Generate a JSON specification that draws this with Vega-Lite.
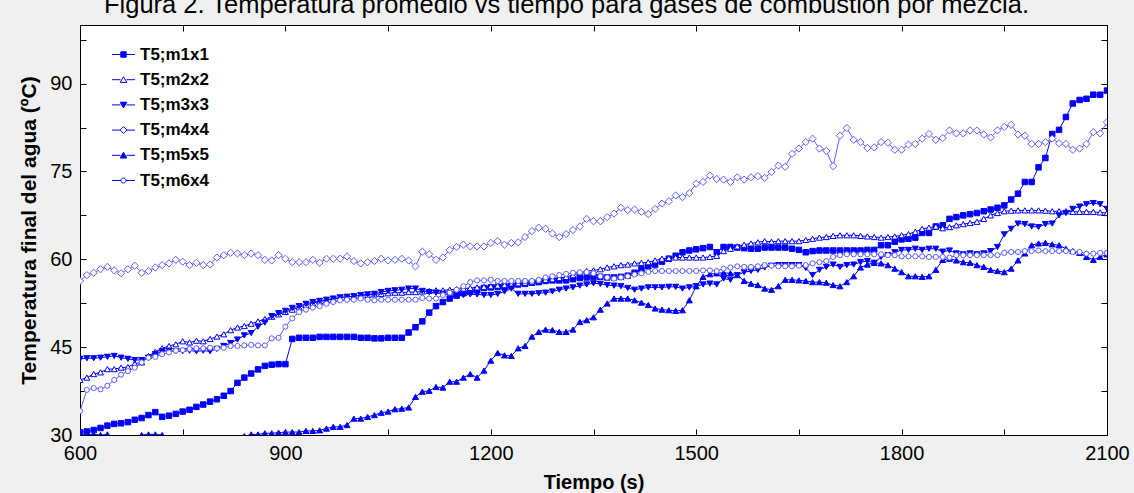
{
  "$schema": "https://vega.github.io/schema/vega-lite/v6.json",
  "width": 1027,
  "height": 410,
  "autosize": {"type": "none"},
  "padding": {"left": 80, "top": 25, "right": 27, "bottom": 58},
  "background": "#f0f0f0",
  "config": {
    "font": "Liberation Sans",
    "view": {"fill": "white", "stroke": "black", "strokeWidth": 1}
  },
  "title": {
    "text": "Figura 2. Temperatura promedio vs tiempo para gases de combustión por mezcla.",
    "fontSize": 25.5,
    "font": "Liberation Sans",
    "fontWeight": "normal",
    "color": "black",
    "anchor": "middle",
    "frame": "group",
    "dx": -27,
    "dy": 28,
    "offset": 14,
    "baseline": "alphabetic"
  },
  "data": {
    "values": [
      {"t":600,"m1x1":30.45,"m2x2":39.4,"m3x3":43.0,"m4x4":56.3,"m5x5":30.1,"m6x4":34.1},
      {"t":610,"m1x1":30.6,"m2x2":39.8,"m3x3":43.1,"m4x4":57.3,"m5x5":30.0,"m6x4":37.7},
      {"t":620,"m1x1":30.85,"m2x2":40.4,"m3x3":43.1,"m4x4":57.7,"m5x5":30.1,"m6x4":38.0},
      {"t":630,"m1x1":31.2,"m2x2":40.7,"m3x3":43.2,"m4x4":58.3,"m5x5":30.0,"m6x4":37.8},
      {"t":640,"m1x1":31.6,"m2x2":41.25,"m3x3":43.35,"m4x4":58.7,"m5x5":30.1,"m6x4":38.4},
      {"t":650,"m1x1":31.9,"m2x2":41.25,"m3x3":43.5,"m4x4":58.1,"m5x5":29.0,"m6x4":39.4},
      {"t":660,"m1x1":32.0,"m2x2":41.5,"m3x3":43.2,"m4x4":57.6,"m5x5":28.5,"m6x4":40.3},
      {"t":670,"m1x1":32.2,"m2x2":41.6,"m3x3":43.0,"m4x4":58.3,"m5x5":28.5,"m6x4":40.9},
      {"t":680,"m1x1":32.6,"m2x2":42.2,"m3x3":42.8,"m4x4":58.9,"m5x5":29.0,"m6x4":41.5},
      {"t":690,"m1x1":32.9,"m2x2":42.4,"m3x3":42.8,"m4x4":57.7,"m5x5":30.0,"m6x4":42.4},
      {"t":700,"m1x1":33.4,"m2x2":43.5,"m3x3":43.2,"m4x4":58.0,"m5x5":30.1,"m6x4":43.2},
      {"t":710,"m1x1":33.9,"m2x2":44.2,"m3x3":43.8,"m4x4":58.6,"m5x5":30.1,"m6x4":43.35},
      {"t":720,"m1x1":33.1,"m2x2":44.8,"m3x3":44.3,"m4x4":59.0,"m5x5":30.0,"m6x4":43.8},
      {"t":730,"m1x1":33.3,"m2x2":45.2,"m3x3":44.4,"m4x4":59.3,"m5x5":29.0,"m6x4":44.1},
      {"t":740,"m1x1":33.6,"m2x2":45.5,"m3x3":44.3,"m4x4":59.9,"m5x5":28.0,"m6x4":44.4},
      {"t":750,"m1x1":34.0,"m2x2":46.0,"m3x3":44.3,"m4x4":59.6,"m5x5":27.5,"m6x4":44.5},
      {"t":760,"m1x1":34.3,"m2x2":45.8,"m3x3":44.4,"m4x4":59.0,"m5x5":27.5,"m6x4":44.7},
      {"t":770,"m1x1":34.8,"m2x2":46.1,"m3x3":44.3,"m4x4":59.4,"m5x5":27.5,"m6x4":44.8},
      {"t":780,"m1x1":35.2,"m2x2":46.0,"m3x3":44.4,"m4x4":59.0,"m5x5":27.5,"m6x4":44.8},
      {"t":790,"m1x1":35.7,"m2x2":46.4,"m3x3":44.3,"m4x4":59.1,"m5x5":27.5,"m6x4":44.9},
      {"t":800,"m1x1":36.1,"m2x2":46.8,"m3x3":44.7,"m4x4":60.3,"m5x5":27.8,"m6x4":44.8},
      {"t":810,"m1x1":36.7,"m2x2":47.2,"m3x3":45.2,"m4x4":60.7,"m5x5":28.2,"m6x4":44.9},
      {"t":820,"m1x1":37.5,"m2x2":47.9,"m3x3":45.7,"m4x4":61.1,"m5x5":28.6,"m6x4":45.2},
      {"t":830,"m1x1":38.9,"m2x2":48.35,"m3x3":46.3,"m4x4":61.0,"m5x5":29.2,"m6x4":45.2},
      {"t":840,"m1x1":39.8,"m2x2":48.6,"m3x3":47.0,"m4x4":60.7,"m5x5":29.8,"m6x4":45.3},
      {"t":850,"m1x1":40.5,"m2x2":49.0,"m3x3":47.4,"m4x4":61.0,"m5x5":30.1,"m6x4":45.4},
      {"t":860,"m1x1":41.2,"m2x2":49.4,"m3x3":48.5,"m4x4":60.7,"m5x5":30.1,"m6x4":45.3},
      {"t":870,"m1x1":41.8,"m2x2":49.8,"m3x3":49.2,"m4x4":59.9,"m5x5":30.3,"m6x4":45.3},
      {"t":880,"m1x1":42.0,"m2x2":50.2,"m3x3":50.3,"m4x4":59.8,"m5x5":30.3,"m6x4":46.5},
      {"t":890,"m1x1":42.1,"m2x2":50.6,"m3x3":50.8,"m4x4":60.7,"m5x5":30.4,"m6x4":46.6},
      {"t":900,"m1x1":42.1,"m2x2":51.0,"m3x3":51.2,"m4x4":60.1,"m5x5":30.5,"m6x4":48.5},
      {"t":910,"m1x1":46.4,"m2x2":51.4,"m3x3":51.7,"m4x4":59.5,"m5x5":30.5,"m6x4":49.9},
      {"t":920,"m1x1":46.6,"m2x2":51.8,"m3x3":52.0,"m4x4":59.5,"m5x5":30.5,"m6x4":51.0},
      {"t":930,"m1x1":46.6,"m2x2":52.2,"m3x3":52.4,"m4x4":59.5,"m5x5":30.7,"m6x4":51.4},
      {"t":940,"m1x1":46.6,"m2x2":52.5,"m3x3":52.7,"m4x4":59.9,"m5x5":30.7,"m6x4":51.75},
      {"t":950,"m1x1":46.75,"m2x2":52.8,"m3x3":52.9,"m4x4":59.4,"m5x5":30.8,"m6x4":52.0},
      {"t":960,"m1x1":46.75,"m2x2":53.0,"m3x3":53.1,"m4x4":60.1,"m5x5":31.1,"m6x4":52.4},
      {"t":970,"m1x1":46.75,"m2x2":53.2,"m3x3":53.3,"m4x4":60.1,"m5x5":31.4,"m6x4":52.7},
      {"t":980,"m1x1":46.75,"m2x2":53.4,"m3x3":53.5,"m4x4":60.1,"m5x5":31.4,"m6x4":53.0},
      {"t":990,"m1x1":46.75,"m2x2":53.6,"m3x3":53.6,"m4x4":60.5,"m5x5":31.7,"m6x4":53.1},
      {"t":1000,"m1x1":46.75,"m2x2":53.7,"m3x3":53.7,"m4x4":59.7,"m5x5":32.8,"m6x4":53.1},
      {"t":1010,"m1x1":46.6,"m2x2":53.8,"m3x3":53.9,"m4x4":59.3,"m5x5":32.8,"m6x4":53.3},
      {"t":1020,"m1x1":46.6,"m2x2":53.9,"m3x3":54.0,"m4x4":59.5,"m5x5":33.1,"m6x4":53.1},
      {"t":1030,"m1x1":46.5,"m2x2":54.0,"m3x3":54.1,"m4x4":59.7,"m5x5":33.4,"m6x4":53.0},
      {"t":1040,"m1x1":46.5,"m2x2":54.1,"m3x3":54.4,"m4x4":60.1,"m5x5":33.8,"m6x4":53.1},
      {"t":1050,"m1x1":46.6,"m2x2":54.2,"m3x3":54.6,"m4x4":59.8,"m5x5":34.0,"m6x4":53.1},
      {"t":1060,"m1x1":46.6,"m2x2":54.3,"m3x3":54.7,"m4x4":59.9,"m5x5":34.4,"m6x4":53.1},
      {"t":1070,"m1x1":46.6,"m2x2":54.3,"m3x3":54.8,"m4x4":60.1,"m5x5":34.5,"m6x4":53.1},
      {"t":1080,"m1x1":47.5,"m2x2":54.4,"m3x3":55.0,"m4x4":59.8,"m5x5":34.7,"m6x4":53.1},
      {"t":1090,"m1x1":48.4,"m2x2":54.4,"m3x3":55.0,"m4x4":58.8,"m5x5":36.5,"m6x4":53.1},
      {"t":1100,"m1x1":49.4,"m2x2":54.5,"m3x3":54.6,"m4x4":61.3,"m5x5":37.4,"m6x4":53.4},
      {"t":1110,"m1x1":50.9,"m2x2":54.6,"m3x3":54.4,"m4x4":60.85,"m5x5":37.55,"m6x4":53.3},
      {"t":1120,"m1x1":52.0,"m2x2":54.7,"m3x3":54.3,"m4x4":59.9,"m5x5":38.2,"m6x4":53.3},
      {"t":1130,"m1x1":52.7,"m2x2":54.7,"m3x3":54.1,"m4x4":60.3,"m5x5":38.1,"m6x4":53.9},
      {"t":1140,"m1x1":53.3,"m2x2":54.8,"m3x3":53.9,"m4x4":61.6,"m5x5":39.1,"m6x4":54.3},
      {"t":1150,"m1x1":53.8,"m2x2":54.9,"m3x3":53.9,"m4x4":62.1,"m5x5":39.1,"m6x4":54.8},
      {"t":1160,"m1x1":54.2,"m2x2":55.0,"m3x3":53.9,"m4x4":62.5,"m5x5":39.8,"m6x4":55.4},
      {"t":1170,"m1x1":54.5,"m2x2":55.1,"m3x3":54.0,"m4x4":62.2,"m5x5":40.4,"m6x4":56.1},
      {"t":1180,"m1x1":54.8,"m2x2":55.2,"m3x3":54.0,"m4x4":62.2,"m5x5":39.8,"m6x4":56.4},
      {"t":1190,"m1x1":55.1,"m2x2":55.3,"m3x3":53.9,"m4x4":62.2,"m5x5":41.0,"m6x4":56.4},
      {"t":1200,"m1x1":55.2,"m2x2":55.4,"m3x3":53.9,"m4x4":62.8,"m5x5":42.7,"m6x4":56.5},
      {"t":1210,"m1x1":55.3,"m2x2":55.5,"m3x3":54.1,"m4x4":63.1,"m5x5":44.0,"m6x4":56.3},
      {"t":1220,"m1x1":55.4,"m2x2":55.6,"m3x3":54.5,"m4x4":62.5,"m5x5":43.6,"m6x4":56.3},
      {"t":1230,"m1x1":55.5,"m2x2":55.7,"m3x3":55.0,"m4x4":62.8,"m5x5":43.5,"m6x4":56.3},
      {"t":1240,"m1x1":55.7,"m2x2":55.9,"m3x3":54.1,"m4x4":62.9,"m5x5":44.8,"m6x4":56.3},
      {"t":1250,"m1x1":55.8,"m2x2":56.0,"m3x3":54.1,"m4x4":63.8,"m5x5":45.2,"m6x4":56.3},
      {"t":1260,"m1x1":56.0,"m2x2":56.1,"m3x3":54.1,"m4x4":64.8,"m5x5":46.8,"m6x4":56.3},
      {"t":1270,"m1x1":56.1,"m2x2":56.3,"m3x3":54.2,"m4x4":65.4,"m5x5":47.6,"m6x4":56.5},
      {"t":1280,"m1x1":56.3,"m2x2":56.5,"m3x3":54.3,"m4x4":65.2,"m5x5":48.0,"m6x4":56.9},
      {"t":1290,"m1x1":56.4,"m2x2":56.6,"m3x3":54.5,"m4x4":64.4,"m5x5":47.9,"m6x4":57.1},
      {"t":1300,"m1x1":56.4,"m2x2":56.8,"m3x3":54.8,"m4x4":63.8,"m5x5":47.6,"m6x4":57.3},
      {"t":1310,"m1x1":56.4,"m2x2":57.0,"m3x3":55.0,"m4x4":64.3,"m5x5":47.6,"m6x4":57.5},
      {"t":1320,"m1x1":56.6,"m2x2":57.3,"m3x3":55.2,"m4x4":65.0,"m5x5":48.0,"m6x4":57.7},
      {"t":1330,"m1x1":56.8,"m2x2":57.7,"m3x3":55.5,"m4x4":65.6,"m5x5":49.3,"m6x4":57.8},
      {"t":1340,"m1x1":56.9,"m2x2":58.0,"m3x3":55.7,"m4x4":66.9,"m5x5":49.6,"m6x4":57.8},
      {"t":1350,"m1x1":57.0,"m2x2":58.1,"m3x3":55.9,"m4x4":66.5,"m5x5":50.1,"m6x4":57.6},
      {"t":1360,"m1x1":57.0,"m2x2":58.3,"m3x3":55.8,"m4x4":66.5,"m5x5":51.4,"m6x4":57.1},
      {"t":1370,"m1x1":56.9,"m2x2":58.6,"m3x3":55.6,"m4x4":67.2,"m5x5":52.45,"m6x4":56.9},
      {"t":1380,"m1x1":56.9,"m2x2":58.8,"m3x3":55.5,"m4x4":67.8,"m5x5":53.3,"m6x4":56.7},
      {"t":1390,"m1x1":57.0,"m2x2":59.0,"m3x3":55.4,"m4x4":68.8,"m5x5":53.3,"m6x4":56.9},
      {"t":1400,"m1x1":57.2,"m2x2":59.1,"m3x3":55.1,"m4x4":68.4,"m5x5":53.3,"m6x4":57.1},
      {"t":1410,"m1x1":57.7,"m2x2":59.3,"m3x3":54.8,"m4x4":68.5,"m5x5":53.0,"m6x4":57.4},
      {"t":1420,"m1x1":58.3,"m2x2":59.4,"m3x3":55.0,"m4x4":68.1,"m5x5":52.6,"m6x4":57.6},
      {"t":1430,"m1x1":58.8,"m2x2":59.5,"m3x3":55.2,"m4x4":67.7,"m5x5":52.2,"m6x4":57.85},
      {"t":1440,"m1x1":59.1,"m2x2":59.8,"m3x3":55.2,"m4x4":68.6,"m5x5":51.6,"m6x4":58.0},
      {"t":1450,"m1x1":59.6,"m2x2":60.1,"m3x3":55.2,"m4x4":69.5,"m5x5":51.4,"m6x4":58.0},
      {"t":1460,"m1x1":60.1,"m2x2":60.2,"m3x3":55.3,"m4x4":69.9,"m5x5":51.3,"m6x4":58.0},
      {"t":1470,"m1x1":60.6,"m2x2":60.3,"m3x3":55.3,"m4x4":70.9,"m5x5":51.2,"m6x4":58.0},
      {"t":1480,"m1x1":61.2,"m2x2":60.3,"m3x3":55.0,"m4x4":70.6,"m5x5":51.3,"m6x4":58.0},
      {"t":1490,"m1x1":61.5,"m2x2":60.3,"m3x3":55.2,"m4x4":71.3,"m5x5":53.0,"m6x4":58.0},
      {"t":1500,"m1x1":61.7,"m2x2":60.3,"m3x3":55.4,"m4x4":72.9,"m5x5":55.4,"m6x4":58.0},
      {"t":1510,"m1x1":61.9,"m2x2":60.3,"m3x3":55.7,"m4x4":73.2,"m5x5":57.0,"m6x4":58.1},
      {"t":1520,"m1x1":62.1,"m2x2":60.4,"m3x3":55.85,"m4x4":74.3,"m5x5":57.45,"m6x4":58.1},
      {"t":1530,"m1x1":61.2,"m2x2":60.6,"m3x3":55.7,"m4x4":73.7,"m5x5":57.6,"m6x4":58.0},
      {"t":1540,"m1x1":62.1,"m2x2":61.4,"m3x3":56.7,"m4x4":73.6,"m5x5":57.7,"m6x4":58.4},
      {"t":1550,"m1x1":62.1,"m2x2":61.8,"m3x3":56.5,"m4x4":73.2,"m5x5":57.6,"m6x4":58.6},
      {"t":1560,"m1x1":62.0,"m2x2":62.2,"m3x3":57.3,"m4x4":74.0,"m5x5":57.3,"m6x4":58.8},
      {"t":1570,"m1x1":61.9,"m2x2":62.5,"m3x3":57.8,"m4x4":73.6,"m5x5":56.3,"m6x4":58.7},
      {"t":1580,"m1x1":61.8,"m2x2":62.7,"m3x3":58.0,"m4x4":74.0,"m5x5":55.85,"m6x4":58.7},
      {"t":1590,"m1x1":61.8,"m2x2":62.9,"m3x3":58.2,"m4x4":74.2,"m5x5":55.6,"m6x4":58.8},
      {"t":1600,"m1x1":62.0,"m2x2":63.1,"m3x3":58.6,"m4x4":73.9,"m5x5":55.0,"m6x4":59.0},
      {"t":1610,"m1x1":62.0,"m2x2":63.0,"m3x3":58.9,"m4x4":74.9,"m5x5":54.8,"m6x4":58.9},
      {"t":1620,"m1x1":62.0,"m2x2":63.1,"m3x3":59.0,"m4x4":76.0,"m5x5":55.4,"m6x4":58.8},
      {"t":1630,"m1x1":62.0,"m2x2":63.1,"m3x3":59.0,"m4x4":75.8,"m5x5":56.5,"m6x4":58.8},
      {"t":1640,"m1x1":61.8,"m2x2":63.1,"m3x3":59.0,"m4x4":78.0,"m5x5":56.5,"m6x4":58.8},
      {"t":1650,"m1x1":61.6,"m2x2":63.1,"m3x3":59.0,"m4x4":78.9,"m5x5":56.4,"m6x4":58.9},
      {"t":1660,"m1x1":61.2,"m2x2":63.3,"m3x3":58.5,"m4x4":80.0,"m5x5":56.3,"m6x4":59.0},
      {"t":1670,"m1x1":61.4,"m2x2":63.5,"m3x3":57.3,"m4x4":80.6,"m5x5":56.1,"m6x4":59.3},
      {"t":1680,"m1x1":61.5,"m2x2":63.7,"m3x3":58.2,"m4x4":78.9,"m5x5":56.1,"m6x4":59.5},
      {"t":1690,"m1x1":61.5,"m2x2":63.8,"m3x3":58.7,"m4x4":78.5,"m5x5":56.0,"m6x4":59.7},
      {"t":1700,"m1x1":61.5,"m2x2":64.0,"m3x3":59.1,"m4x4":75.9,"m5x5":55.6,"m6x4":60.4},
      {"t":1710,"m1x1":61.5,"m2x2":64.1,"m3x3":58.7,"m4x4":81.1,"m5x5":55.4,"m6x4":60.7},
      {"t":1720,"m1x1":61.5,"m2x2":64.1,"m3x3":59.0,"m4x4":82.4,"m5x5":56.1,"m6x4":60.85},
      {"t":1730,"m1x1":61.5,"m2x2":64.1,"m3x3":59.1,"m4x4":80.4,"m5x5":57.1,"m6x4":60.85},
      {"t":1740,"m1x1":61.5,"m2x2":64.0,"m3x3":59.5,"m4x4":80.0,"m5x5":58.6,"m6x4":60.85},
      {"t":1750,"m1x1":61.6,"m2x2":63.9,"m3x3":59.7,"m4x4":79.0,"m5x5":59.1,"m6x4":60.85},
      {"t":1760,"m1x1":61.6,"m2x2":63.8,"m3x3":59.4,"m4x4":79.1,"m5x5":59.4,"m6x4":60.85},
      {"t":1770,"m1x1":62.4,"m2x2":63.7,"m3x3":60.4,"m4x4":80.0,"m5x5":59.3,"m6x4":60.85},
      {"t":1780,"m1x1":62.4,"m2x2":63.8,"m3x3":60.7,"m4x4":79.9,"m5x5":59.0,"m6x4":60.7},
      {"t":1790,"m1x1":63.0,"m2x2":63.9,"m3x3":61.2,"m4x4":78.7,"m5x5":58.4,"m6x4":60.7},
      {"t":1800,"m1x1":63.4,"m2x2":64.1,"m3x3":61.6,"m4x4":78.7,"m5x5":57.8,"m6x4":60.5},
      {"t":1810,"m1x1":63.5,"m2x2":64.3,"m3x3":61.6,"m4x4":79.6,"m5x5":57.1,"m6x4":60.5},
      {"t":1820,"m1x1":63.7,"m2x2":64.7,"m3x3":61.8,"m4x4":79.7,"m5x5":57.1,"m6x4":60.5},
      {"t":1830,"m1x1":64.5,"m2x2":65.2,"m3x3":61.6,"m4x4":80.6,"m5x5":57.0,"m6x4":60.5},
      {"t":1840,"m1x1":64.5,"m2x2":65.4,"m3x3":61.8,"m4x4":81.4,"m5x5":57.1,"m6x4":60.4},
      {"t":1850,"m1x1":65.6,"m2x2":65.6,"m3x3":61.8,"m4x4":80.4,"m5x5":58.2,"m6x4":60.4},
      {"t":1860,"m1x1":65.8,"m2x2":65.3,"m3x3":61.3,"m4x4":80.7,"m5x5":59.9,"m6x4":60.4},
      {"t":1870,"m1x1":66.9,"m2x2":65.5,"m3x3":61.5,"m4x4":82.0,"m5x5":60.1,"m6x4":60.3},
      {"t":1880,"m1x1":67.2,"m2x2":65.8,"m3x3":61.0,"m4x4":81.5,"m5x5":59.8,"m6x4":60.7},
      {"t":1890,"m1x1":67.5,"m2x2":66.0,"m3x3":60.85,"m4x4":81.5,"m5x5":59.5,"m6x4":60.7},
      {"t":1900,"m1x1":67.7,"m2x2":66.2,"m3x3":61.0,"m4x4":82.0,"m5x5":59.4,"m6x4":60.7},
      {"t":1910,"m1x1":67.9,"m2x2":66.4,"m3x3":60.85,"m4x4":82.0,"m5x5":59.0,"m6x4":60.7},
      {"t":1920,"m1x1":68.2,"m2x2":66.9,"m3x3":61.0,"m4x4":81.3,"m5x5":58.7,"m6x4":60.7},
      {"t":1930,"m1x1":68.5,"m2x2":67.5,"m3x3":61.4,"m4x4":80.8,"m5x5":58.2,"m6x4":60.7},
      {"t":1940,"m1x1":68.8,"m2x2":67.9,"m3x3":62.1,"m4x4":82.0,"m5x5":58.0,"m6x4":60.7},
      {"t":1950,"m1x1":69.2,"m2x2":68.2,"m3x3":64.25,"m4x4":82.6,"m5x5":57.8,"m6x4":61.1},
      {"t":1960,"m1x1":70.2,"m2x2":68.3,"m3x3":65.2,"m4x4":82.95,"m5x5":58.4,"m6x4":61.25},
      {"t":1970,"m1x1":71.2,"m2x2":68.35,"m3x3":66.1,"m4x4":81.3,"m5x5":59.8,"m6x4":61.25},
      {"t":1980,"m1x1":73.2,"m2x2":68.35,"m3x3":66.0,"m4x4":81.1,"m5x5":61.0,"m6x4":61.4},
      {"t":1990,"m1x1":73.2,"m2x2":68.35,"m3x3":65.6,"m4x4":79.7,"m5x5":62.4,"m6x4":61.4},
      {"t":2000,"m1x1":75.7,"m2x2":68.35,"m3x3":65.5,"m4x4":79.7,"m5x5":62.7,"m6x4":61.5},
      {"t":2010,"m1x1":77.3,"m2x2":68.3,"m3x3":66.0,"m4x4":80.0,"m5x5":62.8,"m6x4":61.4},
      {"t":2020,"m1x1":81.4,"m2x2":68.2,"m3x3":66.1,"m4x4":80.6,"m5x5":62.55,"m6x4":61.4},
      {"t":2030,"m1x1":82.1,"m2x2":68.2,"m3x3":67.5,"m4x4":79.8,"m5x5":62.4,"m6x4":61.4},
      {"t":2040,"m1x1":84.3,"m2x2":68.2,"m3x3":67.9,"m4x4":79.7,"m5x5":61.8,"m6x4":61.4},
      {"t":2050,"m1x1":86.6,"m2x2":68.1,"m3x3":68.6,"m4x4":78.7,"m5x5":61.4,"m6x4":61.25},
      {"t":2060,"m1x1":87.2,"m2x2":68.1,"m3x3":69.0,"m4x4":78.9,"m5x5":61.1,"m6x4":61.25},
      {"t":2070,"m1x1":87.4,"m2x2":68.1,"m3x3":69.4,"m4x4":79.7,"m5x5":60.4,"m6x4":60.96},
      {"t":2080,"m1x1":88.1,"m2x2":68.1,"m3x3":69.6,"m4x4":81.7,"m5x5":59.9,"m6x4":60.96},
      {"t":2090,"m1x1":88.1,"m2x2":68.0,"m3x3":69.4,"m4x4":81.5,"m5x5":60.4,"m6x4":61.1},
      {"t":2100,"m1x1":88.8,"m2x2":67.9,"m3x3":68.6,"m4x4":83.4,"m5x5":60.85,"m6x4":61.1}
    ]
  },
  "transform": [
    {"fold": ["m1x1", "m2x2", "m3x3", "m4x4", "m5x5", "m6x4"], "as": ["series", "value"]}
  ],
  "layer": [
    {
      "transform": [{"filter": {"field": "series", "oneOf": ["m1x1", "m2x2", "m3x3", "m5x5"]}}],
      "mark": {"type": "line", "stroke": "#0000ff", "strokeWidth": 1, "clip": true},
      "encoding": {
        "x": {
          "field": "t", "type": "quantitative",
          "scale": {"domain": [600, 2100], "nice": false, "zero": false},
          "axis": {
            "orient": "bottom",
            "values": [600, 750, 900, 1050, 1200, 1350, 1500, 1650, 1800, 1950, 2100],
            "labelExpr": "datum.value % 300 === 0 ? datum.label : ''",
            "format": "d",
            "title": "Tiempo (s)",
            "titleFontSize": 20, "titleFontWeight": "bold", "titleColor": "black", "titlePadding": 9,
            "labelFontSize": 20, "labelColor": "black", "labelPadding": 14, "labelFlush": false, "labelOverlap": false,
            "tickSize": -6, "tickColor": "black", "domainColor": "black", "grid": false
          }
        },
        "y": {
          "field": "value", "type": "quantitative",
          "scale": {"domain": [30, 100], "nice": false, "zero": false},
          "axis": {
            "orient": "left",
            "values": [30, 37.5, 45, 52.5, 60, 67.5, 75, 82.5, 90, 97.5],
            "labelExpr": "datum.value % 15 === 0 ? datum.label : ''",
            "format": "d",
            "title": "Temperatura final del agua (ºC)",
            "titleFontSize": 21, "titleFontWeight": "bold", "titleColor": "black", "titlePadding": 10,
            "labelFontSize": 20, "labelColor": "black", "labelPadding": 14, "labelFlush": false, "labelOverlap": false,
            "tickSize": -6, "tickColor": "black", "domainColor": "black", "grid": false
          }
        },
        "detail": {"field": "series", "type": "nominal"}
      }
    },
    {
      "transform": [{"filter": {"field": "series", "oneOf": ["m4x4", "m6x4"]}}],
      "mark": {"type": "line", "stroke": "#5c5cff", "strokeWidth": 1, "clip": true},
      "encoding": {
        "x": {"field": "t", "type": "quantitative", "scale": {"domain": [600, 2100], "nice": false, "zero": false}, "axis": null},
        "y": {"field": "value", "type": "quantitative", "scale": {"domain": [30, 100], "nice": false, "zero": false}, "axis": null},
        "detail": {"field": "series", "type": "nominal"}
      }
    },
    {
      "transform": [{"filter": "datum.t < 0"}],
      "mark": {"type": "point", "filled": true, "stroke": "#0000ff", "strokeWidth": 1, "opacity": 1, "size": 36, "clip": true},
      "encoding": {
        "x": {
          "field": "t", "type": "quantitative",
          "scale": {"domain": [600, 2100], "nice": false, "zero": false},
          "axis": {
            "orient": "top",
            "values": [600, 750, 900, 1050, 1200, 1350, 1500, 1650, 1800, 1950, 2100],
            "labels": false, "title": null,
            "tickSize": -6, "tickColor": "black", "domainColor": "black", "grid": false
          }
        },
        "y": {
          "field": "value", "type": "quantitative",
          "scale": {"domain": [30, 100], "nice": false, "zero": false},
          "axis": {
            "orient": "right",
            "values": [30, 37.5, 45, 52.5, 60, 67.5, 75, 82.5, 90, 97.5],
            "labels": false, "title": null,
            "tickSize": -6, "tickColor": "black", "domainColor": "black", "grid": false
          }
        },
        "shape": {
          "field": "series", "type": "nominal",
          "scale": {
            "domain": ["m1x1", "m2x2", "m3x3", "m4x4", "m5x5", "m6x4"],
            "range": [
              "M-1.15,0H-0.27M0.27,0H1.15M-0.27,-0.27H0.27V0.27H-0.27Z",
              "M-1.15,0H-0.3M0.3,0H1.15M0,-0.3L0.33,0.27H-0.33Z",
              "M-1.15,0H-0.3M0.3,0H1.15M0,0.3L0.33,-0.27H-0.33Z",
              "M-1.15,0H-0.35M0.35,0H1.15M-0.35,0L0,-0.35L0.35,0L0,0.35Z",
              "M-1.15,0H-0.3M0.3,0H1.15M0,-0.3L0.33,0.27H-0.33Z",
              "M-1.15,0H-0.25M0.25,0H1.15M-0.25,0A0.25,0.25 0 1,0 0.25,0A0.25,0.25 0 1,0 -0.25,0Z"
            ]
          },
          "legend": {
            "orient": "none", "legendX": 33, "legendY": 19, "title": null,
            "labelExpr": "'T5;' + datum.label",
            "labelFontSize": 17, "labelFontWeight": "bold", "labelColor": "black", "labelOffset": 6,
            "symbolSize": 400, "rowPadding": 6.2, "symbolStrokeWidth": 1
          }
        },
        "fill": {
          "field": "series", "type": "nominal",
          "scale": {
            "domain": ["m1x1", "m2x2", "m3x3", "m4x4", "m5x5", "m6x4"],
            "range": ["#0000ff", "#ffffff", "#0000ff", "#ffffff", "#0000ff", "#ffffff"]
          },
          "legend": null
        }
      }
    },
    {
      "transform": [{"filter": {"field": "series", "oneOf": ["m1x1"]}}],
      "mark": {"type": "point", "shape": "square", "filled": true, "fill": "#0000ff", "stroke": "#0000ff", "strokeWidth": 1, "opacity": 1, "size": 30, "clip": true},
      "encoding": {
        "x": {"field": "t", "type": "quantitative", "scale": {"domain": [600, 2100], "nice": false, "zero": false}, "axis": null},
        "y": {"field": "value", "type": "quantitative", "scale": {"domain": [30, 100], "nice": false, "zero": false}, "axis": null}
      }
    },
    {
      "transform": [{"filter": {"field": "series", "oneOf": ["m2x2"]}}],
      "mark": {"type": "point", "shape": "triangle-up", "filled": true, "fill": "#ffffff", "stroke": "#0000ff", "strokeWidth": 1, "opacity": 1, "size": 36, "clip": true},
      "encoding": {
        "x": {"field": "t", "type": "quantitative", "scale": {"domain": [600, 2100], "nice": false, "zero": false}, "axis": null},
        "y": {"field": "value", "type": "quantitative", "scale": {"domain": [30, 100], "nice": false, "zero": false}, "axis": null}
      }
    },
    {
      "transform": [{"filter": {"field": "series", "oneOf": ["m3x3"]}}],
      "mark": {"type": "point", "shape": "triangle-down", "filled": true, "fill": "#0000ff", "stroke": "#0000ff", "strokeWidth": 1, "opacity": 1, "size": 36, "clip": true},
      "encoding": {
        "x": {"field": "t", "type": "quantitative", "scale": {"domain": [600, 2100], "nice": false, "zero": false}, "axis": null},
        "y": {"field": "value", "type": "quantitative", "scale": {"domain": [30, 100], "nice": false, "zero": false}, "axis": null}
      }
    },
    {
      "transform": [{"filter": {"field": "series", "oneOf": ["m4x4"]}}],
      "mark": {"type": "point", "shape": "diamond", "filled": true, "fill": "#ffffff", "stroke": "#5c5cff", "strokeWidth": 1, "opacity": 1, "size": 52, "clip": true},
      "encoding": {
        "x": {"field": "t", "type": "quantitative", "scale": {"domain": [600, 2100], "nice": false, "zero": false}, "axis": null},
        "y": {"field": "value", "type": "quantitative", "scale": {"domain": [30, 100], "nice": false, "zero": false}, "axis": null}
      }
    },
    {
      "transform": [{"filter": {"field": "series", "oneOf": ["m5x5"]}}],
      "mark": {"type": "point", "shape": "triangle-up", "filled": true, "fill": "#0000ff", "stroke": "#0000ff", "strokeWidth": 1, "opacity": 1, "size": 36, "clip": true},
      "encoding": {
        "x": {"field": "t", "type": "quantitative", "scale": {"domain": [600, 2100], "nice": false, "zero": false}, "axis": null},
        "y": {"field": "value", "type": "quantitative", "scale": {"domain": [30, 100], "nice": false, "zero": false}, "axis": null}
      }
    },
    {
      "transform": [{"filter": {"field": "series", "oneOf": ["m6x4"]}}],
      "mark": {"type": "point", "shape": "circle", "filled": true, "fill": "#ffffff", "stroke": "#5c5cff", "strokeWidth": 1, "opacity": 1, "size": 26, "clip": true},
      "encoding": {
        "x": {"field": "t", "type": "quantitative", "scale": {"domain": [600, 2100], "nice": false, "zero": false}, "axis": null},
        "y": {"field": "value", "type": "quantitative", "scale": {"domain": [30, 100], "nice": false, "zero": false}, "axis": null}
      }
    }
  ],
  "resolve": {"axis": {"x": "independent", "y": "independent"}}
}
